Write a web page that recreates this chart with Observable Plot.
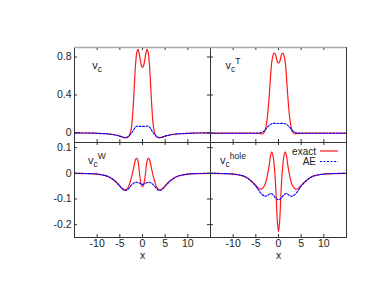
<!DOCTYPE html>
<html><head><meta charset="utf-8">
<script src="https://cdn.jsdelivr.net/npm/d3@7"></script>
<script src="https://cdn.jsdelivr.net/npm/@observablehq/plot@0.6"></script>
<style>
body{margin:0;background:#fff;}
#chart{position:relative;width:374px;height:289px;background:#fff;}
</style>
</head><body><div id="chart"></div>
<script>
const xs = [-15,-12,-10,-8,-7,-6,-5,-4.5,-4,-3.5,-3,-2.5,-2,-1.75,-1.5,-1.25,-1,-0.75,-0.5,-0.25,0,0.25,0.5,0.75,1,1.25,1.5,1.75,2,2.5,3,3.5,4,4.5,5,6,7,8,10,12,15];

const vcExact = [0.001,0,-0.003,-0.008,-0.013,-0.021,-0.033,-0.041,-0.048,-0.05,-0.035,0.04,0.32,0.55,0.74,0.85,0.88,0.84,0.77,0.71,0.69,0.71,0.77,0.84,0.88,0.85,0.74,0.55,0.32,0.04,-0.035,-0.05,-0.048,-0.041,-0.033,-0.021,-0.013,-0.008,-0.003,0,0.001];
const vcAE = [0.001,0,-0.003,-0.008,-0.013,-0.021,-0.033,-0.041,-0.047,-0.045,-0.03,-0.005,0.03,0.05,0.064,0.071,0.074,0.072,0.07,0.07,0.07,0.07,0.07,0.072,0.074,0.071,0.064,0.05,0.03,-0.005,-0.03,-0.045,-0.047,-0.041,-0.033,-0.021,-0.013,-0.008,-0.003,0,0.001];

const vtExact = [-0.002,-0.002,-0.002,-0.002,-0.002,-0.002,-0.003,-0.004,-0.006,-0.01,0.02,0.15,0.42,0.6,0.74,0.81,0.84,0.835,0.795,0.75,0.735,0.75,0.795,0.835,0.84,0.81,0.74,0.6,0.42,0.15,0.02,-0.01,-0.006,-0.004,-0.003,-0.002,-0.002,-0.002,-0.002,-0.002,-0.002];
const vtAE = [-0.002,-0.002,-0.002,-0.002,-0.002,-0.002,-0.002,-0.001,0.002,0.01,0.03,0.058,0.082,0.091,0.097,0.1,0.102,0.102,0.101,0.1,0.1,0.1,0.101,0.102,0.102,0.1,0.097,0.091,0.082,0.058,0.03,0.01,0.002,-0.001,-0.002,-0.002,-0.002,-0.002,-0.002,-0.002,-0.002];

const vwExact = [0,-0.001,-0.003,-0.01,-0.018,-0.031,-0.049,-0.058,-0.064,-0.062,-0.048,-0.02,0.018,0.04,0.054,0.058,0.048,0.015,-0.022,-0.045,-0.052,-0.045,-0.022,0.015,0.048,0.058,0.054,0.04,0.018,-0.02,-0.048,-0.062,-0.064,-0.058,-0.049,-0.031,-0.018,-0.01,-0.003,-0.001,0];
const vwAE = [0,-0.001,-0.003,-0.01,-0.018,-0.031,-0.05,-0.06,-0.066,-0.066,-0.058,-0.047,-0.039,-0.036,-0.035,-0.035,-0.036,-0.038,-0.04,-0.042,-0.043,-0.042,-0.04,-0.038,-0.036,-0.035,-0.035,-0.036,-0.039,-0.047,-0.058,-0.066,-0.066,-0.06,-0.05,-0.031,-0.018,-0.01,-0.003,-0.001,0];

const vhExact = [0,-0.001,-0.003,-0.009,-0.017,-0.03,-0.047,-0.057,-0.062,-0.058,-0.045,-0.012,0.038,0.07,0.084,0.072,0.04,-0.012,-0.095,-0.188,-0.228,-0.188,-0.095,-0.012,0.04,0.072,0.084,0.07,0.038,-0.012,-0.045,-0.058,-0.062,-0.057,-0.047,-0.03,-0.017,-0.009,-0.003,-0.001,0];
const vhAE = [0,-0.001,-0.003,-0.009,-0.017,-0.031,-0.05,-0.063,-0.075,-0.084,-0.089,-0.087,-0.081,-0.079,-0.08,-0.083,-0.088,-0.094,-0.098,-0.101,-0.102,-0.101,-0.098,-0.094,-0.088,-0.083,-0.08,-0.079,-0.081,-0.087,-0.089,-0.084,-0.075,-0.063,-0.05,-0.031,-0.017,-0.009,-0.003,-0.001,0];

const xTicks = [-10,-5,0,5,10];
const yTicksTop = [0,0.4,0.8];
const yTicksBottom = [-0.2,-0.1,0,0.1];
const seriesNames = ["exact","AE"];
const panelSups = ["", "T", "W", "hole"];

const FONT = '"Liberation Sans", Arial, Helvetica, sans-serif';
const W = 136, H = 95;
const chart = document.getElementById("chart");

function panel({exact, ae, yDomain, yTicks, col, row, sup, legend}) {
  const isLeft = col === 0, isTop = row === 0;
  const mL = isLeft ? 74 : 0, mR = isLeft ? 0 : 28;
  const mT = isTop ? 47 : 0, mB = isTop ? 0 : 52;
  const data = xs.map((x, i) => ({x, exact: exact[i], ae: ae[i]}));
  const marks = [
    Plot.line(data, {x: "x", y: "exact", stroke: "#ff1a1a", strokeWidth: 1.2, curve: "catmull-rom"}),
    Plot.line(data, {x: "x", y: "ae", stroke: "#0000ff", strokeWidth: 1.1, strokeDasharray: "2,1.5", curve: "catmull-rom"}),
    Plot.tickX(xTicks, {x: d => d, insetTop: H - 3, stroke: "#333"}),
    Plot.tickX(xTicks, {x: d => d, insetBottom: H - 3, stroke: "#333"}),
    Plot.tickY(yTicks, {y: d => d, insetRight: W - 3, stroke: "#333"}),
    Plot.frame({stroke: "#333"})
  ];
  if (isLeft) marks.push(Plot.tickY(yTicks, {y: d => d, insetLeft: W - 3, stroke: "#333"}));
  if (isTop) marks.push(Plot.ruleY([yDomain[1]], {stroke: "#aaa", strokeWidth: 1.3}));
  if (isLeft) marks.push(Plot.axisY(yTicks, {anchor: "left", tickSize: 0, tickPadding: 3, label: null, tickFormat: d => String(d)}));
  if (!isTop) {
    marks.push(Plot.axisX(xTicks, {anchor: "bottom", tickSize: 0, tickPadding: 2.5, label: null, tickFormat: d => String(d)}));
    marks.push(Plot.text(["x"], {frameAnchor: "bottom", lineAnchor: "middle", dy: 18.5, fontSize: 10.5}));
  }
  const plot = Plot.plot({
    width: mL + W + mR, height: mT + H + mB,
    marginLeft: mL, marginRight: mR, marginTop: mT, marginBottom: mB,
    x: {domain: [-15, 15], label: null, ...(isTop ? {axis: null} : {})},
    y: {domain: yDomain, label: null, ...(isLeft ? {} : {axis: null})},
    style: `position:absolute;left:${isLeft ? 0 : 210}px;top:${isTop ? 0 : 142}px;overflow:visible;background:transparent;font-family:${FONT};font-size:10.5px;color:#222;`,
    marks
  });
  const svg = d3.select(plot);
  const t = svg.append("text").attr("x", mL + 23).attr("y", mT + 21.5)
    .attr("font-size", 11).attr("fill", "#222").attr("font-family", FONT);
  t.append("tspan").text("v");
  t.append("tspan").attr("font-size", 8.5).attr("dy", 3.5).text("c");
  if (sup) t.append("tspan").attr("font-size", 8.5).attr("dy", -8.5).text(sup);
  if (legend) {
    const g = svg.append("g").attr("font-family", FONT).attr("font-size", 10).attr("fill", "#222");
    g.append("text").attr("x", 106).attr("y", 12.5).attr("text-anchor", "end").text(seriesNames[0]);
    g.append("line").attr("x1", 110).attr("x2", 128).attr("y1", 9).attr("y2", 9)
      .attr("stroke", "#ff1a1a").attr("stroke-width", 1.2);
    g.append("text").attr("x", 106).attr("y", 23).attr("text-anchor", "end").text(seriesNames[1]);
    g.append("line").attr("x1", 110).attr("x2", 128).attr("y1", 19.5).attr("y2", 19.5)
      .attr("stroke", "#0000ff").attr("stroke-width", 1.1).attr("stroke-dasharray", "2,1.5");
  }
  chart.appendChild(plot);
}

panel({exact: vcExact, ae: vcAE, yDomain: [-0.1, 0.9], yTicks: yTicksTop, col: 0, row: 0, sup: panelSups[0]});
panel({exact: vtExact, ae: vtAE, yDomain: [-0.1, 0.9], yTicks: yTicksTop, col: 1, row: 0, sup: panelSups[1]});
panel({exact: vwExact, ae: vwAE, yDomain: [-0.25, 0.12], yTicks: yTicksBottom, col: 0, row: 1, sup: panelSups[2]});
panel({exact: vhExact, ae: vhAE, yDomain: [-0.25, 0.12], yTicks: yTicksBottom, col: 1, row: 1, sup: panelSups[3], legend: true});
</script>
</body></html>
